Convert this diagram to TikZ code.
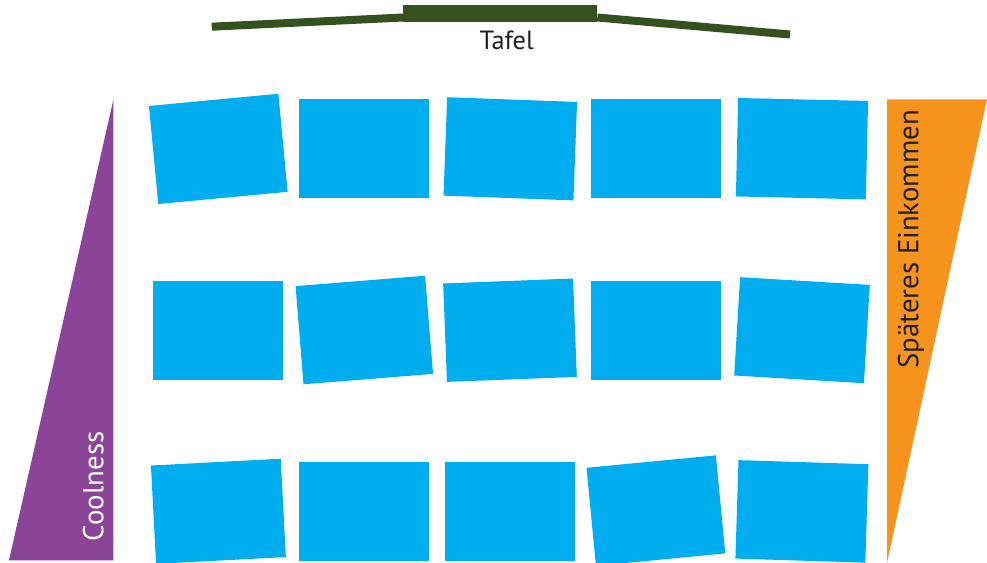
\documentclass[tikz,border=0pt]{standalone}
\usepackage{fontspec}
\setmainfont{PT Sans}
\usetikzlibrary{positioning}
\definecolor{deskblue}{HTML}{00AEEF}
\definecolor{tafelgreen}{HTML}{35521E}
\definecolor{coolpurple}{HTML}{8C4498}
\definecolor{incomeorange}{HTML}{F7941D}
\definecolor{textdark}{HTML}{231F20}

\begin{document}
\begin{tikzpicture}[
  x=0.02cm,
  y=-0.02cm,
  desk/.style={fill=deskblue,inner sep=0pt,minimum width=2.6cm,minimum height=1.97cm},
  axislabel/.style={font=\fontsize{16.4}{19}\selectfont,inner sep=0pt,rotate=90,anchor=base}
]%
  \useasboundingbox (0,0) rectangle (987,563);

  % Tafel
  \fill[tafelgreen] (403.3,5) rectangle (597.3,21.7);
  \draw[tafelgreen,line width=0.16cm]
    (211.7,26.7) coordinate (tafel0) -- (403.3,17.5) coordinate (tafel1)
    (597.3,17.5) coordinate (tafel2) -- (790,34.5) coordinate (tafel3);
  \node[font=\fontsize{15}{18}\selectfont,text=textdark,inner sep=0pt,anchor=base]
    (tafel) at (506.7,49.3) {Tafel};

  % Coolness
  \fill[coolpurple] (113.3,100) -- (113.3,560.3) -- (9,560.3) -- cycle;
  \node[axislabel,text=white] (cool) at (103.3,486.3) {Coolness};

  % Income
  \fill[incomeorange] (887,99.3) -- (987,99.3) -- (887,563) -- cycle;
  \node[axislabel,text=textdark] (income) at (918.3,239.2) {Späteres Einkommen};

  % Desks
  \foreach \r/\c/\x/\y/\a in {
    1/1/218.3/148.9/5.4, 1/2/364/148.5/0, 1/3/510.3/148.8/-2.1, 1/4/656/148.5/0, 1/5/802/148.7/-1.3,
    2/1/218/330.5/0, 2/2/364.3/330/4.6, 2/3/510/330.2/2.2, 2/4/656/330.5/0, 2/5/802/330.2/-3.4,
    3/1/218.4/511.3/3, 3/2/364/511.5/0, 3/3/510/511.5/0, 3/4/655.9/510.6/5.5, 3/5/801.9/511.4/-1.8}
    \node[desk,rotate=\a] (desk\r\c) at (\x,\y) {};

\end{tikzpicture}
\end{document}
